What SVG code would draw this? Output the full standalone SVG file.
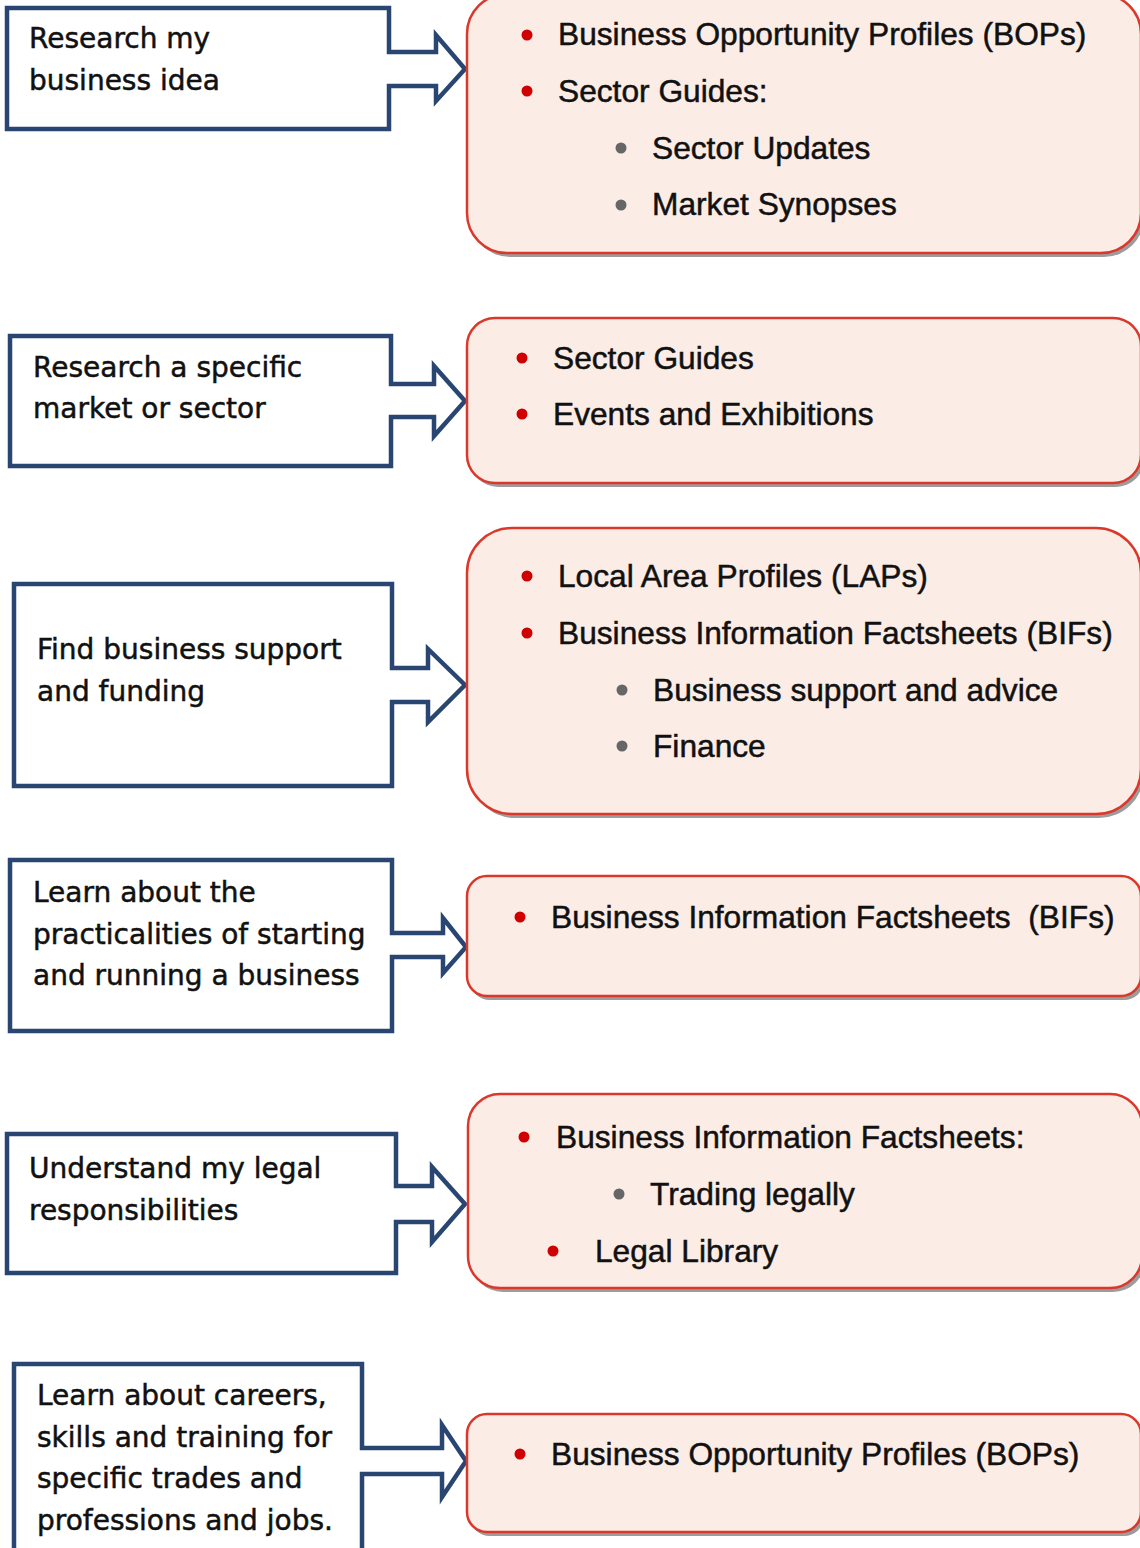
<svg xmlns="http://www.w3.org/2000/svg" width="1140" height="1548" viewBox="0 0 1140 1548">
<style>
.call{fill:#ffffff;stroke:#294672;stroke-width:4.5;stroke-linejoin:miter}
.box{fill:#FCECE6;stroke:#D9382B;stroke-width:2.5}
.sh{fill:#9c9c9c}
.lt{font-family:"DejaVu Sans",sans-serif;font-size:28px;fill:#111;stroke:#111;stroke-width:0.5}
.rt{font-family:"Liberation Sans",Arial,sans-serif;font-size:31.7px;fill:#111;stroke:#111;stroke-width:0.5}
.rb{fill:#D00000}
.gb{fill:#666666}
</style>
<rect width="1140" height="1548" fill="#ffffff"/>
<g id="connectors">
<path class="call" d="M7,8 H389 V52 H436 V35 L465,69 L436,101 V86 H389 V129 H7 Z"/>
<path class="call" d="M10,336 H391 V384 H434 V366 L465,401 L434,436 V417 H391 V466 H10 Z"/>
<path class="call" d="M14,584 H392 V668 H428 V649 L465,685 L428,722 V702 H392 V786 H14 Z"/>
<path class="call" d="M10,860 H392 V933 H443 V918 L466,947 L443,973 V957 H392 V1031 H10 Z"/>
<path class="call" d="M7,1134 H396 V1186 H432 V1167 L465,1204 L432,1242 V1222 H396 V1273 H7 Z"/>
<path class="call" d="M14,1364 H362 V1448 H442 V1425 L466,1461 L442,1497 V1474 H362 V1560 H14 Z"/>
</g>
<g id="q1">
<text class="lt" x="29" y="48">Research my</text>
<text class="lt" x="29" y="90">business idea</text>
</g>
<g id="q2">
<text class="lt" x="33" y="377">Research a specific</text>
<text class="lt" x="33" y="418">market or sector</text>
</g>
<g id="q3">
<text class="lt" x="37" y="659">Find business support</text>
<text class="lt" x="37" y="701">and funding</text>
</g>
<g id="q4">
<text class="lt" x="33" y="902">Learn about the</text>
<text class="lt" x="33" y="944">practicalities of starting</text>
<text class="lt" x="33" y="985">and running a business</text>
</g>
<g id="q5">
<text class="lt" x="29" y="1178">Understand my legal</text>
<text class="lt" x="29" y="1220">responsibilities</text>
</g>
<g id="q6">
<text class="lt" x="37" y="1405">Learn about careers,</text>
<text class="lt" x="37" y="1447">skills and training for</text>
<text class="lt" x="37" y="1488">specific trades and</text>
<text class="lt" x="37" y="1530">professions and jobs.</text>
</g>
<g id="a1">
<rect class="sh" x="470" y="-2" width="674" height="259" rx="40"/>
<rect class="box" x="467" y="-6" width="674" height="259" rx="40"/>
<circle class="rb" cx="527" cy="35" r="5.5"/>
<text class="rt" x="558" y="45">Business Opportunity Profiles (BOPs)</text>
<circle class="rb" cx="527" cy="91" r="5.5"/>
<text class="rt" x="558" y="102">Sector Guides:</text>
<circle class="gb" cx="621" cy="148" r="5.5"/>
<text class="rt" x="652" y="159">Sector Updates</text>
<circle class="gb" cx="621" cy="205" r="5.5"/>
<text class="rt" x="652" y="215">Market Synopses</text>
</g>
<g id="a2">
<rect class="sh" x="470" y="322" width="674" height="165" rx="28"/>
<rect class="box" x="467" y="318" width="674" height="165" rx="28"/>
<circle class="rb" cx="522" cy="358" r="5.5"/>
<text class="rt" x="553" y="369">Sector Guides</text>
<circle class="rb" cx="522" cy="414" r="5.5"/>
<text class="rt" x="553" y="425">Events and Exhibitions</text>
</g>
<g id="a3">
<rect class="sh" x="470" y="532" width="674" height="286" rx="45"/>
<rect class="box" x="467" y="528" width="674" height="286" rx="45"/>
<circle class="rb" cx="527" cy="576" r="5.5"/>
<text class="rt" x="558" y="587">Local Area Profiles (LAPs)</text>
<circle class="rb" cx="527" cy="633" r="5.5"/>
<text class="rt" x="558" y="644">Business Information Factsheets (BIFs)</text>
<circle class="gb" cx="622" cy="690" r="5.5"/>
<text class="rt" x="653" y="701">Business support and advice</text>
<circle class="gb" cx="622" cy="746" r="5.5"/>
<text class="rt" x="653" y="757">Finance</text>
</g>
<g id="a4">
<rect class="sh" x="470" y="880" width="674" height="120" rx="20"/>
<rect class="box" x="467" y="876" width="674" height="120" rx="20"/>
<circle class="rb" cx="520" cy="917" r="5.5"/>
<text class="rt" x="551" y="928" xml:space="preserve">Business Information Factsheets  (BIFs)</text>
</g>
<g id="a5">
<rect class="sh" x="471" y="1098" width="674" height="194" rx="32"/>
<rect class="box" x="468" y="1094" width="674" height="194" rx="32"/>
<circle class="rb" cx="524" cy="1137" r="5.5"/>
<text class="rt" x="556" y="1148">Business Information Factsheets:</text>
<circle class="gb" cx="619" cy="1194" r="5.5"/>
<text class="rt" x="650" y="1205">Trading legally</text>
<circle class="rb" cx="553" cy="1251" r="5.5"/>
<text class="rt" x="595" y="1262">Legal Library</text>
</g>
<g id="a6">
<rect class="sh" x="470" y="1418" width="674" height="118" rx="20"/>
<rect class="box" x="467" y="1414" width="674" height="118" rx="20"/>
<circle class="rb" cx="520" cy="1454" r="5.5"/>
<text class="rt" x="551" y="1465">Business Opportunity Profiles (BOPs)</text>
</g>
</svg>
